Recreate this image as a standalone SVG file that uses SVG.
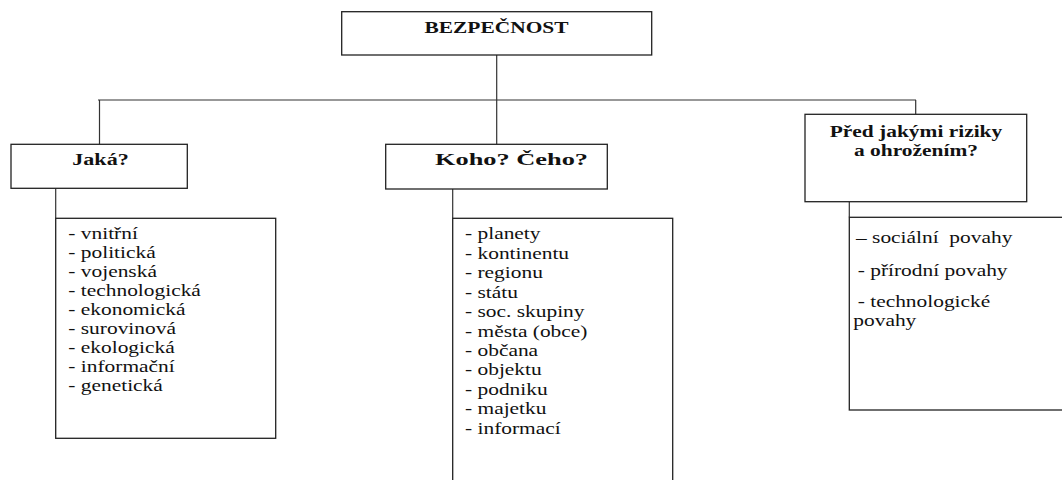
<svg xmlns="http://www.w3.org/2000/svg" width="1062" height="480" viewBox="0 0 1062 480">
<style>
.box{fill:#fff;stroke:#222;stroke-width:1.3}
.con{fill:none;stroke:#333;stroke-width:1.2}
</style>
<rect width="1062" height="480" fill="#fff"/>
<g id="connectors">
<path class="con" d="M496.7 55V100M98 100H916M99.5 100V144.3M496.7 100V144.3M915.7 100V114.3"/>
<path class="con" d="M55.7 188.3V218.3M452.7 189V218.3M849.3 201.7V217.3"/>
</g>
<g font-family="Liberation Serif" font-size="17" fill="#111">
<g id="root">
<rect class="box" x="341.7" y="11.7" width="310" height="43.3"/>
<text font-family="Liberation Serif" font-weight="bold" transform="translate(496.5 32.7) scale(1.26 1)" text-anchor="middle">BEZPEČNOST</text>
</g>
<g id="jaka">
<rect class="box" x="11" y="144.3" width="176.3" height="44"/>
<text font-family="Liberation Serif" font-weight="bold" transform="translate(100.5 164.5) scale(1.3 1)" text-anchor="middle">Jaká?</text>
</g>
<g id="jaka-list">
<rect class="box" x="55.7" y="218.3" width="220" height="220"/>
<text font-family="Liberation Serif" transform="translate(68.3 238.7) scale(1.26 1)"><tspan x="0">- vnitřní</tspan><tspan x="0" dy="19.1">- politická</tspan><tspan x="0" dy="19.1">- vojenská</tspan><tspan x="0" dy="19.1">- technologická</tspan><tspan x="0" dy="19.1">- ekonomická</tspan><tspan x="0" dy="19.1">- surovinová</tspan><tspan x="0" dy="19.1">- ekologická</tspan><tspan x="0" dy="19.1">- informační</tspan><tspan x="0" dy="19.1">- genetická</tspan></text>
</g>
<g id="koho">
<rect class="box" x="385.7" y="144.3" width="221.6" height="44.7"/>
<text font-family="Liberation Serif" font-weight="bold" x="435" y="164.8" textLength="153" lengthAdjust="spacingAndGlyphs">Koho? Čeho?</text>
</g>
<g id="koho-list">
<rect class="box" x="452.7" y="218.3" width="220" height="280"/>
<text font-family="Liberation Serif" transform="translate(465 239.3) scale(1.26 1)"><tspan x="0">- planety</tspan><tspan x="0" dy="19.45">- kontinentu</tspan><tspan x="0" dy="19.45">- regionu</tspan><tspan x="0" dy="19.45">- státu</tspan><tspan x="0" dy="19.45">- soc. skupiny</tspan><tspan x="0" dy="19.45">- města (obce)</tspan><tspan x="0" dy="19.45">- občana</tspan><tspan x="0" dy="19.45">- objektu</tspan><tspan x="0" dy="19.45">- podniku</tspan><tspan x="0" dy="19.45">- majetku</tspan><tspan x="0" dy="19.45">- informací</tspan></text>
</g>
<g id="rizika">
<rect class="box" x="805" y="114.3" width="221.7" height="87.4"/>
<text font-family="Liberation Serif" font-weight="bold" transform="translate(916 136.7) scale(1.26 1)" text-anchor="middle"><tspan x="0">Před jakými riziky</tspan><tspan x="0" dy="19.3">a ohrožením?</tspan></text>
</g>
<g id="rizika-list">
<rect class="box" x="849.3" y="217.3" width="240" height="192.7"/>
<text font-family="Liberation Serif" transform="translate(856 243.3) scale(1.26 1)" xml:space="preserve">– sociální  povahy</text>
<text font-family="Liberation Serif" transform="translate(857.7 275.7) scale(1.26 1)">- přírodní povahy</text>
<text font-family="Liberation Serif" transform="translate(857.7 306.7) scale(1.26 1)">- technologické</text>
<text font-family="Liberation Serif" transform="translate(853.3 325.8) scale(1.26 1)">povahy</text>
</g>
</g>
</svg>
